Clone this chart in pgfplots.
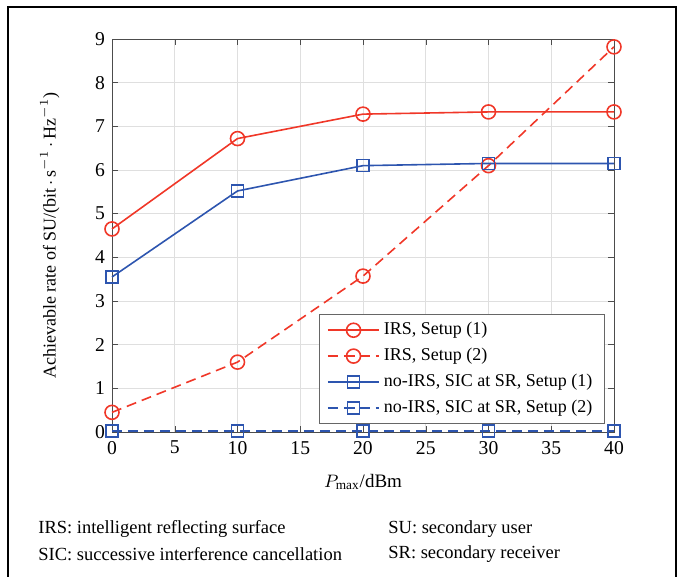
\documentclass[border=0pt]{standalone}
\usepackage{pgfplots}
\pgfplotsset{compat=1.18}
\usepackage{fontspec}
\setmainfont{Liberation Serif}
\definecolor{irsred}{RGB}{240,55,40}
\definecolor{noblue}{RGB}{45,85,175}
\begin{document}
\begin{tikzpicture}
\useasboundingbox (-56pt,-72.5pt) rectangle (286pt,216pt);
\draw[line width=0.6pt] (-52pt,-72.5pt) -- (-52pt,212.5pt) -- (282pt,212.5pt) -- (282pt,-72.5pt);
\begin{axis}[
    at={(0pt,0pt)}, anchor=south west,
    scale only axis,
    width=251pt, height=196.5pt,
    xmin=0, xmax=40, ymin=0, ymax=9,
    xtick={0,5,...,40}, ytick={0,1,...,9},
    tick align=inside,
    major tick length=3pt,
    grid=major,
    grid style={gray!25, line width=0.4pt},
    axis line style={black!70},
    tick style={black!70},
    /pgf/number format/assume math mode=true,
    tick label style={font=\fontsize{9.8}{11}\selectfont},
    xticklabel style={yshift=-1pt},
    xlabel={$P_{\mathrm{max}}$/dBm},
    xlabel style={font=\fontsize{9.5}{11}\selectfont, at={(axis description cs:0.5,0)}, anchor=center, yshift=-25pt},
    ylabel={Achievable rate of SU/(bit\,$\cdot$\,s$^{-1}$\,$\cdot$\,Hz$^{-1}$)},
    ylabel style={font=\fontsize{9}{11}\selectfont, at={(axis description cs:-0.124,0.5)}, anchor=center},
    legend style={at={(0.982,0.02)}, anchor=south east, font=\fontsize{9}{11}\selectfont,
        draw=black!60, line width=0.5pt, row sep=1.2pt, inner xsep=4pt, inner ysep=2pt},
    legend image code/.code={
        \draw[mark repeat=2, mark phase=2, #1] plot coordinates {(0cm,0cm) (0.45cm,0cm) (0.9cm,0cm)};
    },
    legend cell align=left,
    clip=false,
]
\addplot[irsred, line width=0.8pt, mark=o, mark size=3.5pt] coordinates {
    (0,4.65) (10,6.72) (20,7.28) (30,7.33) (40,7.33)
};
\addplot[irsred, line width=0.8pt, dash pattern=on 5pt off 3pt, mark=o, mark size=3.5pt, mark options={solid}] coordinates {
    (0,0.45) (10,1.60) (20,3.57) (30,6.10) (40,8.82)
};
\addplot[noblue, line width=0.8pt, mark=square, mark size=3pt] coordinates {
    (0,3.55) (10,5.52) (20,6.10) (30,6.15) (40,6.15)
};
\addplot[noblue, line width=0.8pt, dash pattern=on 5pt off 3pt, mark=square, mark size=3pt, mark options={solid}] coordinates {
    (0,0.025) (10,0.025) (20,0.025) (30,0.025) (40,0.025)
};
\legend{IRS{,} Setup (1), IRS{,} Setup (2), no-IRS{,} SIC at SR{,} Setup (1), no-IRS{,} SIC at SR{,} Setup (2)}
\end{axis}
\node[anchor=west, font=\fontsize{9.25}{11}\selectfont, inner sep=0pt] at (-37pt,-48.5pt) {IRS: intelligent reflecting surface};
\node[anchor=west, font=\fontsize{9.25}{11}\selectfont, inner sep=0pt] at (-37pt,-61pt) {SIC: successive interference cancellation};
\node[anchor=west, font=\fontsize{9.25}{11}\selectfont, inner sep=0pt] at (138pt,-48.5pt) {SU: secondary user};
\node[anchor=west, font=\fontsize{9.25}{11}\selectfont, inner sep=0pt] at (138pt,-61pt) {SR: secondary receiver};
\end{tikzpicture}
\end{document}
